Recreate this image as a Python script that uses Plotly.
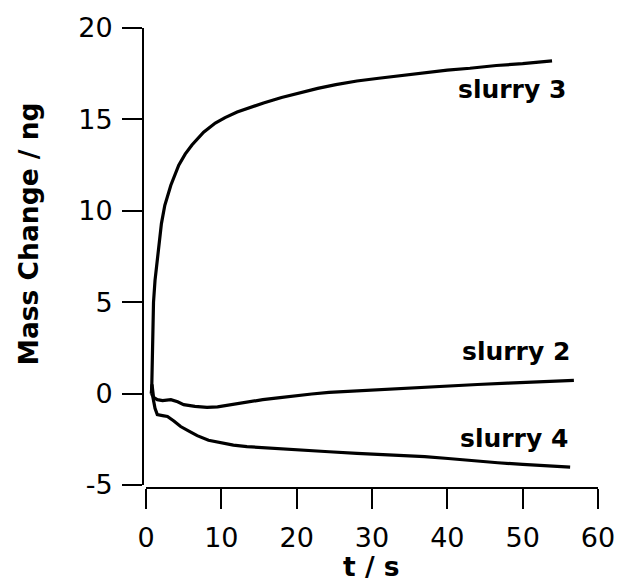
import plotly.graph_objects as go

# ---- data ----
t_slurry3 = [0.75, 0.8, 0.9, 1.0, 1.2, 1.45, 1.75, 2.05, 2.5, 3.3, 4.35, 5.2, 6.1, 7.65, 9.2, 10.5,
             12.1, 13.8, 15.6, 18.0, 20.4, 22.8, 25.2, 28.0, 30.9, 34.0, 37.0, 40.0, 43.0, 46.5, 50.0, 53.9]
m_slurry3 = [0.0, 1.5, 3.2, 5.0, 6.2, 7.1, 8.3, 9.3, 10.3, 11.4, 12.5, 13.1, 13.6, 14.3, 14.8, 15.1,
             15.4, 15.65, 15.9, 16.2, 16.45, 16.7, 16.9, 17.1, 17.25, 17.4, 17.55, 17.7, 17.8, 17.95, 18.05, 18.2]

t_slurry2 = [0.7, 0.8, 1.0, 1.5, 2.2, 3.3, 4.2, 5.0, 6.5, 8.1, 9.5, 11.2, 13.3, 15.5, 17.8, 20.0,
             22.0, 24.3, 27.0, 30.0, 33.0, 36.0, 40.0, 44.0, 48.0, 52.0, 56.8]
m_slurry2 = [0.0, 0.5, -0.2, -0.33, -0.38, -0.33, -0.45, -0.6, -0.7, -0.75, -0.72, -0.6, -0.48, -0.33, -0.22, -0.1,
             -0.02, 0.07, 0.13, 0.2, 0.28, 0.35, 0.42, 0.5, 0.57, 0.65, 0.72]

t_slurry4 = [0.75, 0.9, 1.2, 1.5, 2.2, 2.85, 3.7, 4.6, 5.7, 6.8, 8.3, 9.9, 11.6, 13.4, 15.5, 17.8, 20.4,
             24.3, 28.0, 31.0, 33.5, 37.0, 40.1, 43.5, 46.7, 50.0, 53.0, 56.3]
m_slurry4 = [0.0, -0.15, -0.8, -1.15, -1.2, -1.25, -1.5, -1.8, -2.05, -2.3, -2.55, -2.7, -2.82, -2.9, -2.96, -3.0, -3.08,
             -3.18, -3.27, -3.32, -3.38, -3.45, -3.55, -3.68, -3.78, -3.87, -3.95, -4.02]

label_text = ["slurry 3", "slurry 2", "slurry 4"]
label_x = [48.55, 49.1, 48.9]
label_y = [16.62, 2.32, -2.43]

x_ticks = [0, 10, 20, 30, 40, 50, 60]
y_ticks = [-5, 0, 5, 10, 15, 20]
y_tick_text = ["-5", "0", "5", "10", "15", "20"]

FONT = "DejaVu Sans"

fig = go.Figure()
for tt, mm in [(t_slurry3, m_slurry3), (t_slurry2, m_slurry2), (t_slurry4, m_slurry4)]:
    fig.add_trace(go.Scatter(x=tt, y=mm, mode="lines",
                             line=dict(color="black", width=3.2), showlegend=False,
                             hoverinfo="skip"))

for txt, lx, ly in zip(label_text, label_x, label_y):
    fig.add_annotation(x=lx, y=ly, xref="x", yref="y", text="<b>%s</b>" % txt,
                       showarrow=False, xanchor="center", yanchor="middle",
                       font=dict(family=FONT, size=25, color="black"))

# plot area: x 143 -> 601, y 23 -> 488
fig.add_annotation(x=-0.251, y=0.553, xref="paper", yref="paper",
                   text="<b>Mass Change / ng</b>", textangle=-90, showarrow=False,
                   xanchor="center", yanchor="middle",
                   font=dict(family=FONT, size=26.5, color="black"))
fig.add_annotation(x=0.502, y=-0.209, xref="paper", yref="paper",
                   text="<b>t / s</b>", showarrow=False,
                   xanchor="center", yanchor="bottom",
                   font=dict(family=FONT, size=26.5, color="black"))

fig.update_layout(
    width=627, height=582,
    margin=dict(l=143, r=26, t=23, b=94),
    paper_bgcolor="white", plot_bgcolor="white",
    font=dict(family=FONT, size=27, color="black"),
    xaxis=dict(domain=[3 / 458, 1], range=[0, 60], anchor="free", position=0,
               tickvals=x_ticks, ticks="outside", ticklen=20, tickwidth=2, tickcolor="black",
               showline=True, linewidth=2, linecolor="black", ticklabelstandoff=6,
               showgrid=False, zeroline=False, tickfont=dict(family=FONT, size=27)),
    yaxis=dict(domain=[3 / 465, 1], range=[-5, 20], anchor="free", position=0,
               tickvals=y_ticks, ticktext=y_tick_text, ticks="outside", ticklen=20, tickwidth=2,
               tickcolor="black", ticklabelstandoff=4,
               showline=True, linewidth=2, linecolor="black",
               showgrid=False, zeroline=False, tickfont=dict(family=FONT, size=27)),
)

fig.write_html("out.html")
